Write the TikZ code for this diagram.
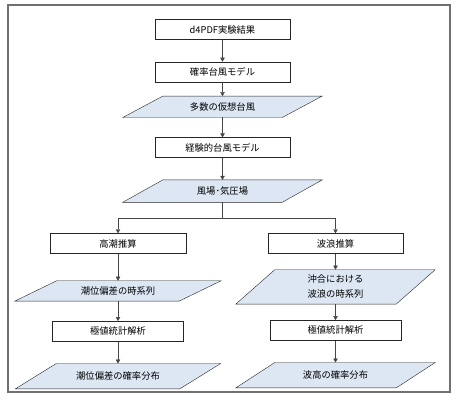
\documentclass[tikz,border=0pt]{standalone}
\usepackage{fontspec}
\setmainfont{Noto Sans CJK JP}
\usepackage{tikz}
\usetikzlibrary{arrows.meta,positioning,backgrounds}
\definecolor{frameg}{RGB}{112,112,112}
\definecolor{linkg}{RGB}{70,70,70}
\definecolor{datab}{RGB}{221,231,244}
\tikzset{
  proc/.style={draw=black!85, thin, fill=white, align=center,
    minimum width=135pt, minimum height=20pt, inner sep=1pt,
    font=\fontsize{9.3}{15}\selectfont},
  % データ（平行四辺形の中身）
  data/.style={align=center, minimum width=#1, inner sep=1pt,
    font=\fontsize{9.3}{15}\selectfont},
  datashape/.style={draw=black!85, thin, fill=datab},
  flow/.style={draw=linkg, thin, -{Triangle[length=4pt,width=4.4pt]}},
  link/.style={draw=linkg, thin}
}
% 平行四辺形：#1 ノード名, #2 ずれ（半分）
\newcommand{\paral}[2]{%
  \path[datashape] ([xshift=-#2]#1.south west) -- ([xshift=-#2]#1.south east)
    -- ([xshift=#2]#1.north east) -- ([xshift=#2]#1.north west) -- cycle;}
\begin{document}
\begin{tikzpicture}[x=1pt, y=-1pt]
    \useasboundingbox (0,0) rectangle (460,406);
    \draw[frameg, line width=1.5pt] (8,5) rectangle (450,392);
    % 中央の流れ
    \node[proc] (exp) at (222.5,29.5) {d4PDF実験結果};
    \node[proc, below=22pt of exp] (prob) {確率台風モデル};
    \node[data=159pt, minimum height=21pt, below=14pt of prob] (many) {多数の仮想台風};
    \node[proc, below=20pt of many] (emp) {経験的台風モデル};
    \node[data=159pt, minimum height=22pt, below=22pt of emp] (wind) {風場･気圧場};
    \coordinate (split) at (222.5,218);
    % 左：高潮
    \node[proc, minimum width=136pt] (surge) at (118,243.5) {高潮推算};
    \node[data=164pt, minimum height=20pt, below=27pt of surge] (tide) {潮位偏差の時系列};
    \node[proc, minimum width=131pt, below=20pt of tide] (evl) {極値統計解析};
    \node[data=164pt, minimum height=25pt, below=22pt of evl] (tidep) {潮位偏差の確率分布};
    % 右：波浪
    \node[proc] (wave) at (335.5,243.5) {波浪推算};
    \node[data=160pt, minimum height=34pt, below=16pt of wave] (off) {沖合における\\波浪の時系列};
    \node[proc, minimum width=131pt, below=16pt of off] (evr) {極値統計解析};
    \node[data=160pt, minimum height=25pt, below=22pt of evr] (waveh) {波高の確率分布};
    \begin{scope}[on background layer]
      \paral{many}{20pt}
      \paral{wind}{20pt}
      \paral{tide}{21pt}
      \paral{tidep}{20.5pt}
      \paral{off}{19.5pt}
      \paral{waveh}{19.5pt}
    \end{scope}
    \draw[flow] (exp) -- (prob);
    \draw[flow] (prob) -- (many);
    \draw[flow] (many) -- (emp);
    \draw[flow] (emp) -- (wind);
    \draw[link] (wind) -- (split);
    \draw[flow] (split) -| (surge);
    \draw[flow] (split) -| (wave);
    \draw[flow] (surge) -- (tide);
    \draw[flow] (tide) -- (evl);
    \draw[flow] (evl) -- (tidep);
    \draw[flow] (wave) -- (off);
    \draw[flow] (off) -- (evr);
    \draw[flow] (evr) -- (waveh);
\end{tikzpicture}
\end{document}
